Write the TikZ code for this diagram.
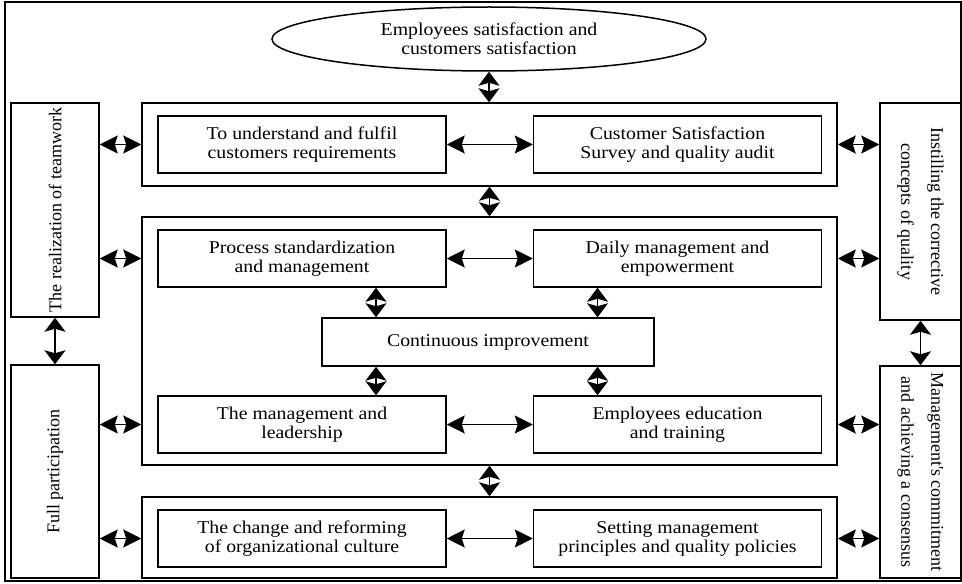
\documentclass[tikz,border=0pt]{standalone}
\usepackage{fontspec}
\setmainfont{Liberation Serif}[FakeStretch=1.1]
\newfontfamily\rotfont{Liberation Serif}
\usetikzlibrary{positioning,shapes.geometric,arrows.meta}

\begin{document}
\begin{tikzpicture}[
x=0.5pt, y=-0.5pt,
goalstyle/.style={draw, ellipse, line width=0.75pt, minimum width=217pt, minimum height=32pt, inner sep=0pt, align=center, font=\fontsize{9}{9.5}\selectfont},
group/.style={draw, line width=0.75pt, minimum width=347.5pt, inner sep=0pt},
item/.style={draw, line width=0.75pt, minimum width=144pt, minimum height=28.5pt, inner sep=1pt, align=center, font=\fontsize{9}{9.5}\selectfont},
side/.style={draw, line width=0.75pt, inner sep=0pt, align=center, font=\rotfont\fontsize{9}{15}\selectfont},
hlink/.style={{Stealth[length=9pt,width=9pt,inset=1.5pt]}-{Stealth[length=9pt,width=9pt,inset=1.5pt]}, line width=0.75pt},
vlink/.style={{Stealth[length=7pt,width=10.5pt,inset=1.5pt]}-{Stealth[length=7pt,width=10.5pt,inset=1.5pt]}, line width=0.75pt},
]

\useasboundingbox (0,0) rectangle (962,583);
\draw[line width=0.75pt] (5,2) rectangle (961,581);

\node[goalstyle] (goal) at (489,39) {Employees satisfaction and\\customers satisfaction};

% the three groups in the middle
\node[group, minimum height=41.5pt] (topgrp) at (489.5,144.5) {};
\node[group, minimum height=124pt] (midgrp) at (489.5,341) {};
\node[group, minimum height=40.5pt] (botgrp) at (489.5,537.5) {};

\node[item] (understand) at (302,144.5) {To understand and fulfil\\customers requirements};
\node[item] (survey) [right=43pt of understand] {Customer Satisfaction\\Survey and quality audit};

\node[item] (process) at (302,258.5) {Process standardization\\and management};
\node[item] (daily) [right=43pt of process] {Daily management and\\empowerment};
\node[item, minimum width=166pt, minimum height=24pt] (cont) at (488,342) {Continuous improvement};
\node[item] (leader) at (302,424.5) {The management and\\leadership};
\node[item] (training) [right=43pt of leader] {Employees education\\and training};

\node[item] (culture) at (302,538.5) {The change and reforming\\of organizational culture};
\node[item] (policy) [right=43pt of culture] {Setting management\\principles and quality policies};

% side boxes
\node[side, rotate=90, minimum width=107pt, minimum height=44pt] (teamwork) at (55,210) {The realization of teamwork};
\node[side, rotate=90, minimum width=106.5pt, minimum height=44pt] (fullpart) at (55,471.5) {Full participation};
\node[side, rotate=-90, minimum width=108.5pt, minimum height=40.5pt] (instill) at (920.5,211.5) {Instilling the corrective\\concepts of quality};
\node[side, rotate=-90, minimum width=106pt, minimum height=40.5pt] (commit) at (920.5,472) {Management's commitment\\and achieving a consensus};

\draw[vlink] (goal.south) -- (goal.south |- topgrp.north);
\draw[vlink] (topgrp.south) -- (midgrp.north);
\draw[vlink] (midgrp.south) -- (botgrp.north);

\draw[hlink] (understand) -- (survey);
\draw[hlink] (process) -- (daily);
\draw[hlink] (leader) -- (training);
\draw[hlink] (culture) -- (policy);

\draw[vlink] ([xshift=37pt]process.south) -- ([xshift=37pt]process.south |- cont.north);
\draw[vlink] ([xshift=-40pt]daily.south) -- ([xshift=-40pt]daily.south |- cont.north);
\draw[vlink] ([xshift=37pt]leader.north) -- ([xshift=37pt]leader.north |- cont.south);
\draw[vlink] ([xshift=-40pt]training.north) -- ([xshift=-40pt]training.north |- cont.south);

\draw[vlink] (teamwork.west) -- (fullpart.east);
\draw[vlink] (instill.east) -- (commit.west);

\draw[hlink] (teamwork.south |- understand) -- (topgrp.west |- understand);
\draw[hlink] (teamwork.south |- process) -- (midgrp.west |- process);
\draw[hlink] (fullpart.south |- leader) -- (midgrp.west |- leader);
\draw[hlink] (fullpart.south |- culture) -- (botgrp.west |- culture);

\draw[hlink] (topgrp.east |- survey) -- (instill.south |- survey);
\draw[hlink] (midgrp.east |- daily) -- (instill.south |- daily);
\draw[hlink] (midgrp.east |- training) -- (commit.south |- training);
\draw[hlink] (botgrp.east |- policy) -- (commit.south |- policy);

\end{tikzpicture}
\end{document}
